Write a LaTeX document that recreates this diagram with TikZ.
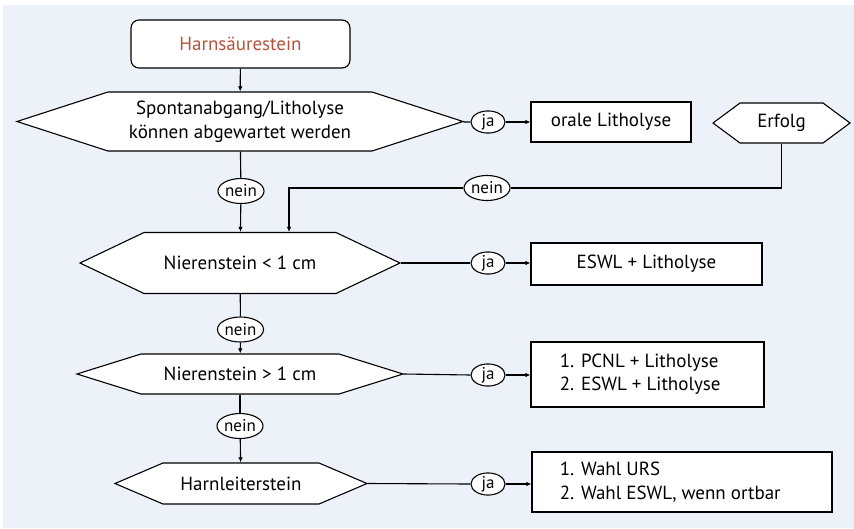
\documentclass[tikz,border=0pt]{standalone}
\usepackage{fontspec}
\setmainfont{PT Sans}
\usetikzlibrary{arrows.meta,shapes.geometric}
\definecolor{bgc}{HTML}{EDF1F8}
\definecolor{titc}{HTML}{B5533C}
\newcommand\hexshape[5]{%
  \filldraw[fill=white] ({#1-#3/2},#2) -- ({#1-#3/2+#5},{#2-#4/2}) -- ({#1+#3/2-#5},{#2-#4/2}) -- ({#1+#3/2},#2) -- ({#1+#3/2-#5},{#2+#4/2}) -- ({#1-#3/2+#5},{#2+#4/2}) -- cycle;}
\begin{document}
\begin{tikzpicture}[x=1pt,y=-1pt,line width=1.1pt,
  font=\fontsize{19}{24}\selectfont,
  startbox/.style={draw,fill=white,rounded corners=8pt,inner sep=0pt,text=titc},
  hexlbl/.style={inner sep=0pt,align=center},
  resbox/.style={draw,fill=white,inner sep=0pt},
  lbl/.style={draw,fill=white,ellipse,inner sep=0pt,font=\fontsize{17}{19}\selectfont},
  yes/.style={lbl,minimum width=34pt,minimum height=20pt},
  no/.style={lbl,minimum width=46pt,minimum height=25pt},
  arr/.style={-{Latex[length=5pt,width=4.5pt]}}]
\useasboundingbox (0,0) rectangle (854,528);
\fill[bgc] (3,5) rectangle (854,528);
% start
\node[startbox,minimum width=219pt,minimum height=48pt] (start) at (240.5,44) {Harnsäurestein};
% hexagons
\hexshape{240}{121.5}{446}{59}{91}
\node[hexlbl,minimum width=446pt,minimum height=59pt] (h1) at (240,121.5) {Spontanabgang/Litholyse\\können abgewartet werden};
\hexshape{240}{263}{320}{61}{64}
\node[hexlbl,minimum width=320pt,minimum height=61pt] (h2) at (240,263) {Nierenstein < 1 cm};
\hexshape{240}{374}{326}{40}{64}
\node[hexlbl,minimum width=326pt,minimum height=40pt] (h3) at (240,374) {Nierenstein > 1 cm};
\hexshape{241}{483.5}{252}{41}{48}
\node[hexlbl,minimum width=252pt,minimum height=41pt] (h4) at (241,483.5) {Harnleiterstein};
\hexshape{781.5}{123}{137}{40}{27}
\node[hexlbl,minimum width=137pt,minimum height=40pt] (erf) at (781.5,123) {Erfolg};
% result boxes
\node[resbox,minimum width=160pt,minimum height=40pt] (b1) at (611,122) {orale Litholyse};
\node[resbox,minimum width=231pt,minimum height=42pt] (b2) at (646.5,264) {ESWL + Litholyse};
\node[resbox,minimum width=233pt,minimum height=65pt] (b3) at (647.5,374.5) {};
\node[anchor=west,align=left,font=\fontsize{19}{23}\selectfont] (t3) at (556,374.5) {1. PCNL + Litholyse\\2. ESWL + Litholyse};
\node[resbox,minimum width=300pt,minimum height=60pt] (b4) at (682,482) {};
\node[anchor=west,align=left,font=\fontsize{19}{24}\selectfont] (t4) at (556,482) {1. Wahl URS\\2. Wahl ESWL, wenn ortbar};
% labels
\node[yes] (j1) at (488,122) {ja};
\node[yes] (j2) at (488,263) {ja};
\node[yes] (j3) at (488,375) {ja};
\node[yes] (j4) at (488,484) {ja};
\node[no] (n1) at (241,191) {nein};
\node[no] (n2) at (487,188) {nein};
\node[no] (n3) at (240.5,329.5) {nein};
\node[no] (n4) at (240,426) {nein};
% connectors
\draw[arr] (start) -- (h1);
\draw (h1) -- (j1);
\draw[arr] (j1) -- (b1);
\draw (h1) -- (n1);
\draw[arr] (n1) -- (h2);
\draw (erf.south) |- (n2.east);
\draw[arr] (n2.west) -| ([xshift=49pt]h2.north);
\draw (h2.east) -- (j2.west);
\draw[arr] (j2.east) -- (j2.east -| b2.west);
\draw (h2) -- (n3);
\draw[arr] (n3) -- (h3);
\draw (h3.east) -- (j3.west);
\draw[arr] (j3.east) -- (j3.east -| b3.west);
\draw (h3) -- (n4);
\draw[arr] (n4) -- (h4);
\draw (h4.east) -- (j4.west);
\draw[arr] (j4.east) -- (j4.east -| b4.west);
\end{tikzpicture}
\end{document}
